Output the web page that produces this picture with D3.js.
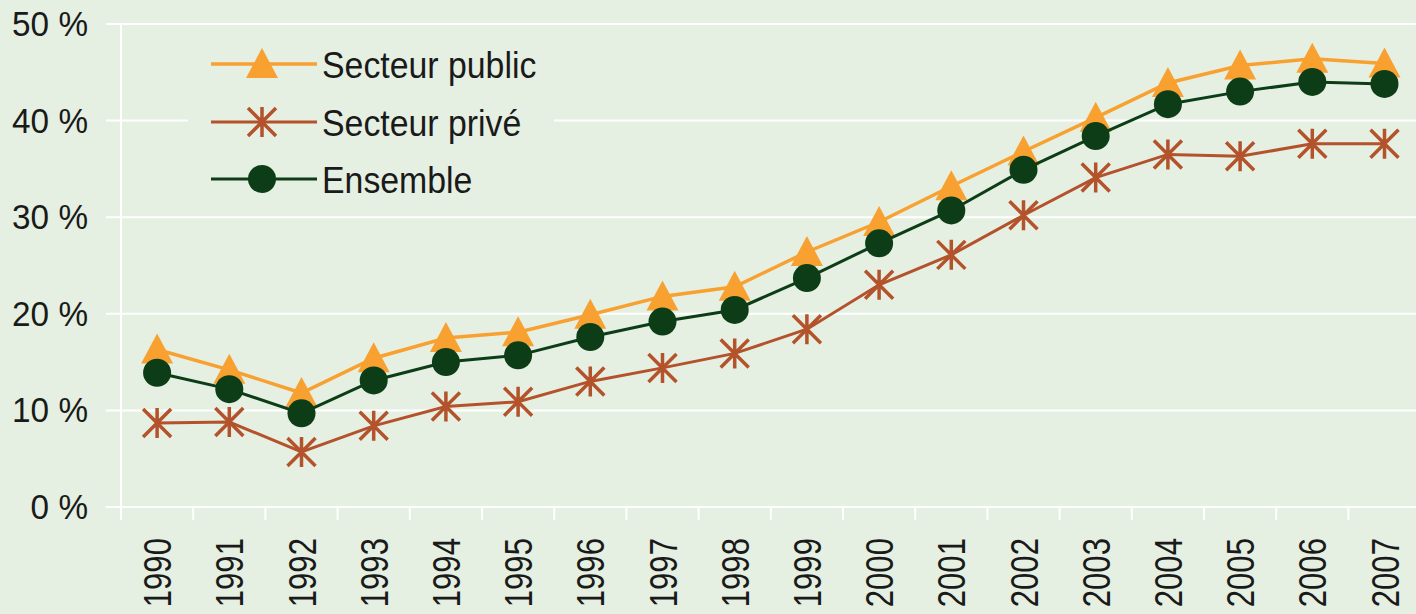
<!DOCTYPE html>
<html>
<head>
<meta charset="utf-8">
<script src="https://cdn.jsdelivr.net/npm/d3@7"></script>
<style>
  html, body { margin: 0; padding: 0; background: #e5f0e2; }
  svg { display: block; }
  text { font-family: "Liberation Sans", Arial, sans-serif; fill: #1a1a1a; }
</style>
</head>
<body>
<div id="chart"></div>
<script>
"use strict";

// data (share in %)
var years = ["1990", "1991", "1992", "1993", "1994", "1995", "1996", "1997", "1998",
  "1999", "2000", "2001", "2002", "2003", "2004", "2005", "2006", "2007"];
var publicValues = [16.3, 14.2, 11.8, 15.4, 17.5, 18.1, 19.9, 21.8, 22.8,
  26.4, 29.5, 33.2, 36.8, 40.3, 43.9, 45.7, 46.4, 45.9];
var priveValues = [8.7, 8.8, 5.7, 8.4, 10.4, 10.9, 13.0, 14.4, 15.9,
  18.4, 23.0, 26.1, 30.2, 34.1, 36.5, 36.3, 37.6, 37.6];
var ensembleValues = [13.9, 12.2, 9.7, 13.1, 15.0, 15.7, 17.6, 19.2, 20.4,
  23.7, 27.3, 30.7, 34.9, 38.4, 41.7, 43.0, 44.0, 43.8];
var yTicks = [0, 10, 20, 30, 40, 50];
var seriesNames = ["Secteur public", "Secteur privé", "Ensemble"];

var W = 1416, H = 614;
var bg = "#e5f0e2";
var colors = { pub: "#f8a131", priv: "#b3522b", ens: "#0d3d17" };

var svg = d3.select("#chart").append("svg")
  .attr("width", W)
  .attr("height", H);

svg.append("rect").attr("width", W).attr("height", H).attr("fill", bg);

var x = d3.scaleBand().domain(years).range([121, 121 + 18 * 72.2]).padding(0);
var y = d3.scaleLinear().domain([0, 50]).range([507, 24]);
function cx(d, i) { return x(years[i]) + x.bandwidth() / 2; }

// gridlines
svg.append("g").selectAll("line")
  .data(yTicks)
  .enter().append("line")
  .attr("x1", 106).attr("x2", W)
  .attr("y1", function (d) { return y(d); })
  .attr("y2", function (d) { return y(d); })
  .attr("stroke", "#ffffff")
  .attr("stroke-width", 2);

// y axis line + x ticks at band edges
svg.append("line")
  .attr("x1", 121).attr("x2", 121)
  .attr("y1", y(50)).attr("y2", 520)
  .attr("stroke", "#ffffff").attr("stroke-width", 2);

svg.append("g").selectAll("line")
  .data(years.slice(1))
  .enter().append("line")
  .attr("x1", function (d) { return x(d); })
  .attr("x2", function (d) { return x(d); })
  .attr("y1", y(0)).attr("y2", 520)
  .attr("stroke", "#ffffff").attr("stroke-width", 2);

// y labels
svg.append("g").selectAll("text")
  .data(yTicks)
  .enter().append("text")
  .attr("transform", function (d) { return "translate(88," + (y(d) + 12) + ") scale(0.98,1.04)"; })
  .attr("text-anchor", "end")
  .attr("font-size", 34)
  .text(function (d) { return d + " %"; });

// x labels, rotated
svg.append("g").selectAll("text")
  .data(years)
  .enter().append("text")
  .attr("transform", function (d) {
    return "translate(" + (x(d) + x.bandwidth() / 2 + 14) + ",538) rotate(-90) scale(0.82,1.02)";
  })
  .attr("text-anchor", "end")
  .attr("font-size", 38)
  .text(function (d) { return d; });

var line = d3.line()
  .x(cx)
  .y(function (d) { return y(d); });

// markers
var triPath = "M0,-16L16,14L-16,14Z";
var starPath = "M0,-15L0,15M-14,-14L14,14M-14,14L14,-14";

function drawPrive(g, values) {
  g.append("path").datum(values)
    .attr("d", line).attr("fill", "none")
    .attr("stroke", colors.priv).attr("stroke-width", 3);
  g.selectAll(".star").data(values).enter().append("path")
    .attr("class", "star")
    .attr("transform", function (d, i) { return "translate(" + cx(d, i) + "," + y(d) + ")"; })
    .attr("d", starPath)
    .attr("stroke", colors.priv).attr("stroke-width", 3.5).attr("fill", "none");
}

function drawPublic(g, values) {
  g.append("path").datum(values)
    .attr("d", line).attr("fill", "none")
    .attr("stroke", colors.pub).attr("stroke-width", 3.5);
  g.selectAll(".tri").data(values).enter().append("path")
    .attr("class", "tri")
    .attr("transform", function (d, i) { return "translate(" + cx(d, i) + "," + y(d) + ")"; })
    .attr("d", triPath)
    .attr("fill", colors.pub);
}

function drawEnsemble(g, values) {
  g.append("path").datum(values)
    .attr("d", line).attr("fill", "none")
    .attr("stroke", colors.ens).attr("stroke-width", 3);
  g.selectAll(".dot").data(values).enter().append("circle")
    .attr("class", "dot")
    .attr("cx", cx)
    .attr("cy", function (d) { return y(d); })
    .attr("r", 14)
    .attr("fill", colors.ens);
}

var plot = svg.append("g");
drawPrive(plot.append("g"), priveValues);
drawPublic(plot.append("g"), publicValues);
drawEnsemble(plot.append("g"), ensembleValues);

// legend (box hides the gridline behind it)
var legend = svg.append("g");
legend.append("rect")
  .attr("x", 188).attr("y", 36)
  .attr("width", 366).attr("height", 170)
  .attr("fill", bg);

var legendKeys = ["pub", "priv", "ens"];
var legendY = [64, 122, 179];
legendKeys.forEach(function (k, i) {
  var row = legend.append("g").attr("transform", "translate(0," + legendY[i] + ")");
  row.append("line")
    .attr("x1", 211).attr("x2", 317)
    .attr("stroke", colors[k]).attr("stroke-width", k === "pub" ? 3.5 : 3);
  if (k === "pub") {
    row.append("path").attr("d", triPath).attr("transform", "translate(262,0)").attr("fill", colors.pub);
  } else if (k === "priv") {
    row.append("path").attr("d", starPath).attr("transform", "translate(262,0)")
      .attr("stroke", colors.priv).attr("stroke-width", 3.5).attr("fill", "none");
  } else {
    row.append("circle").attr("cx", 262).attr("cy", 0).attr("r", 14).attr("fill", colors.ens);
  }
  row.append("text")
    .attr("transform", "translate(322,14) scale(0.94,1.04)")
    .attr("font-size", 36)
    .text(seriesNames[i]);
});
</script>
</body>
</html>
